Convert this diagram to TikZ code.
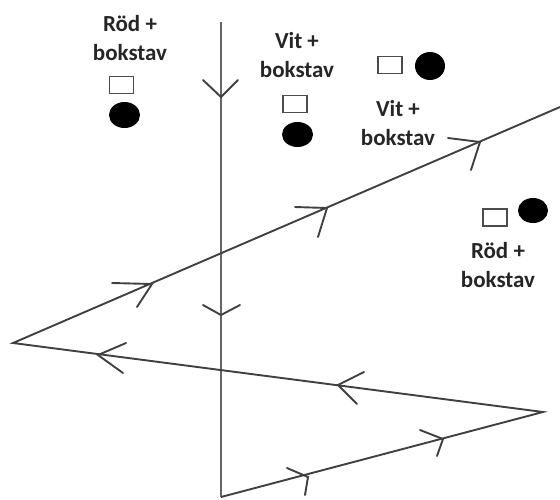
\documentclass[tikz,border=0pt]{standalone}
\usepackage{fontspec}
\setmainfont{Carlito}
\begin{document}
\begin{tikzpicture}[x=1pt,y=-1pt,
  lbl/.style={font=\bfseries\fontsize{23}{29}\selectfont, align=center, text=black!85, inner sep=0pt},
  sq/.style={draw=black!70, line width=1.6pt, fill=white, minimum width=24pt, minimum height=17pt, inner sep=0pt},
  ray/.style={draw=black!75, line width=1.9pt, line join=miter},
  axis/.style={draw=black!60, line width=2.4pt},
  arm/.style={draw=black!75, line width=1.9pt, line cap=round}]
\useasboundingbox (0,0) rectangle (560,499);
% geometry
\coordinate (vt) at (221,22);
\coordinate (vb) at (221,497);
\coordinate (r) at (543,412);
\coordinate (l) at (13,343);
\coordinate (e) at (560,107);
% vertical line
\draw[axis] (vt) -- (vb);
% zigzag ray
\draw[ray] (vb) -- (r) -- (l) -- (e);
% arrow marks on vertical line
\coordinate (a1) at (221,97);
\coordinate (a2) at (221,315);
\draw[arm] (a1) ++(-18,-17) -- (a1) -- ++(17,-17);
\draw[arm] (a2) ++(-18,-10) -- (a2) -- ++(19,-10);
% arrow marks on ray
\coordinate (b1) at (308,477);
\coordinate (b2) at (443,439);
\coordinate (c1) at (338,385);
\coordinate (c2) at (98,355);
\coordinate (d1) at (152,284);
\coordinate (d2) at (327,208);
\coordinate (d3) at (480,142);
\draw[arm] (b1) ++(-21,-9) -- (b1) -- ++(-3,18);
\draw[arm] (b2) ++(-23,-9) -- (b2) -- ++(-6,17);
\draw[arm] (c1) ++(26,-13) -- (c1) -- ++(19,19);
\draw[arm] (c2) ++(28,-12) -- (c2) -- ++(25,18);
\draw[arm] (d1) ++(-40,-1) -- (d1) -- ++(-15,23);
\draw[arm] (d2) ++(-32,-1) -- (d2) -- ++(-9,29);
\draw[arm] (d3) ++(-32,-4) -- (d3) -- ++(-9,28);
% labels
\node[lbl] (tA) at (130,38) {Röd +\\bokstav};
\node[lbl] (tB) at (297,55) {Vit +\\bokstav};
\node[lbl] (tC) at (398,123) {Vit +\\bokstav};
\node[lbl] (tD) at (498,265) {Röd +\\bokstav};
% squares
\node[sq] (sA) at (121.5,85) {};
\node[sq] (sB) at (295,104) {};
\node[sq] (sC) at (390,65) {};
\node[sq] (sD) at (495,217.5) {};
% dots
\fill (124.5,115) ellipse [x radius=15.5, y radius=13];
\fill (297.5,134.5) ellipse [x radius=15.5, y radius=12.5];
\fill (430,66) ellipse [x radius=15, y radius=14];
\fill (533,210.5) ellipse [x radius=15, y radius=12.5];
\end{tikzpicture}
\end{document}
